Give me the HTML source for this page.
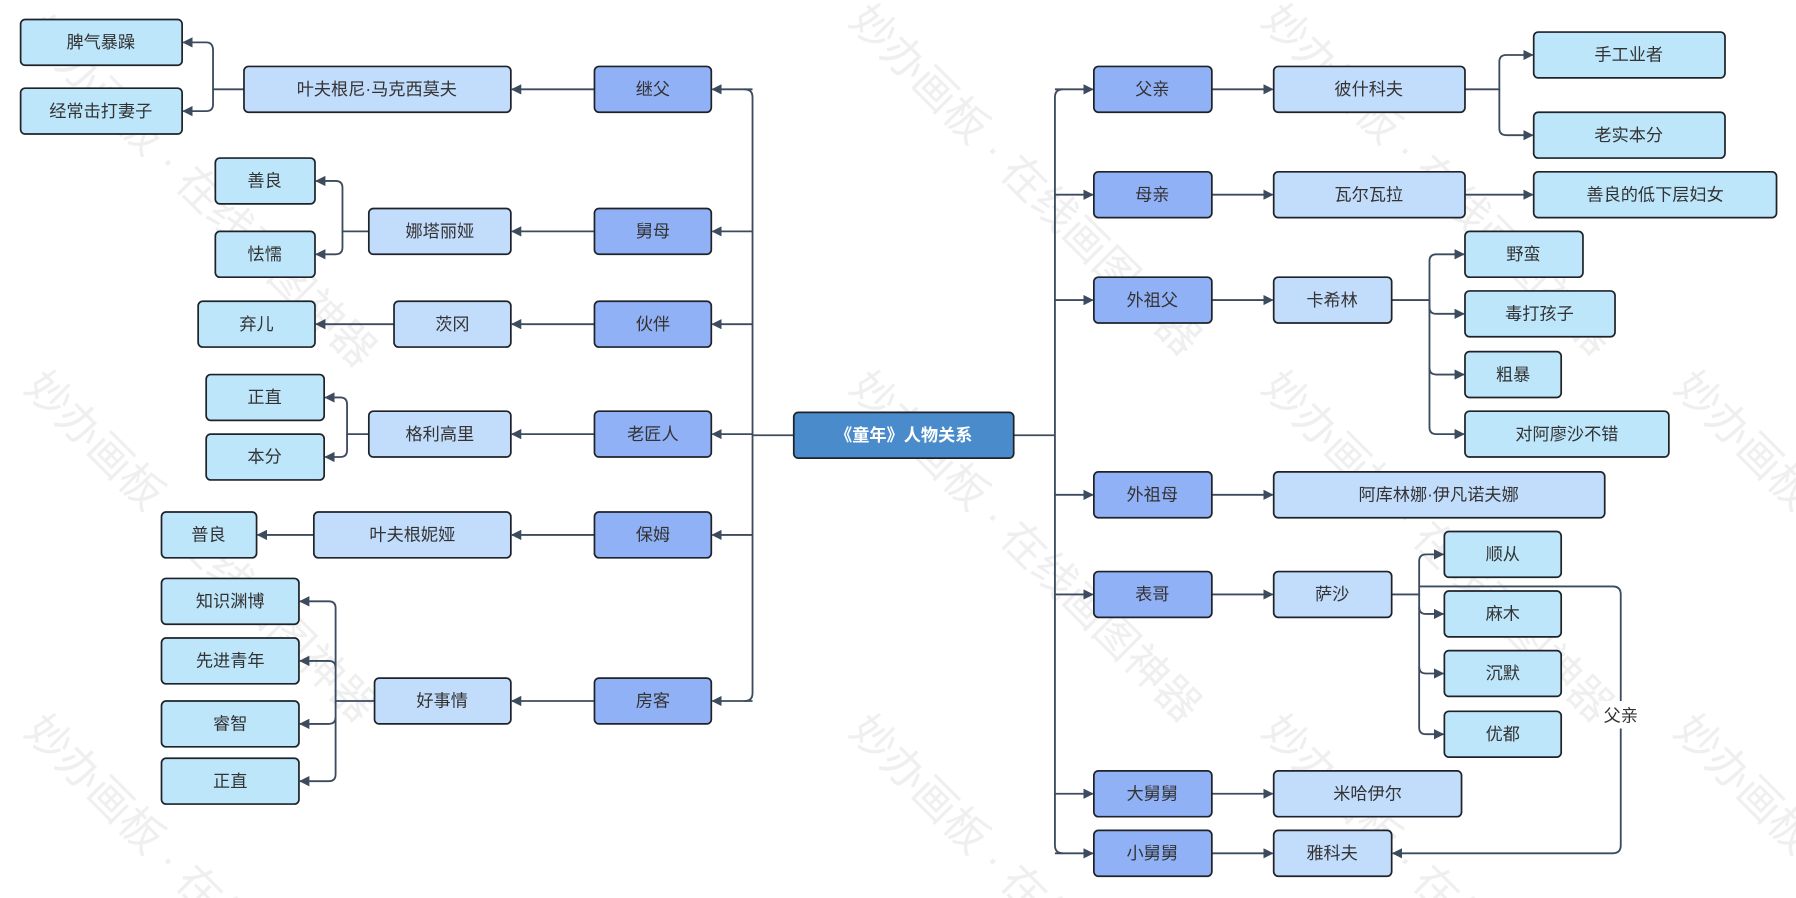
<!DOCTYPE html>
<html><head><meta charset="utf-8"><style>
html,body{margin:0;padding:0;background:#fff;width:1796px;height:898px;overflow:hidden;}
svg{display:block;overflow:hidden;}
text{font-family:"Liberation Sans","Noto Sans CJK SC",sans-serif;}
</style></head><body>
<svg width="1796" height="898" viewBox="0 0 1568 784" xmlns="http://www.w3.org/2000/svg">
<defs>
<marker id="a" viewBox="0 0 10 10" refX="9" refY="5" markerWidth="9" markerHeight="9" markerUnits="userSpaceOnUse" orient="auto"><path d="M0 0 L10 5 L0 10 Z" fill="#3d4b5e"/></marker>
<clipPath id="c"><rect x="0" y="0" width="1568" height="784"/></clipPath>
</defs>
<g fill="#ececec" font-size="38" opacity="0.8" clip-path="url(#c)">
<text transform="translate(20,30) rotate(45)">妙办画板 · 在线画图神器</text>
<text transform="translate(740,20) rotate(45)">妙办画板 · 在线画图神器</text>
<text transform="translate(1100,20) rotate(45)">妙办画板 · 在线画图神器</text>
<text transform="translate(20,340) rotate(45)">妙办画板 · 在线画图神器</text>
<text transform="translate(740,340) rotate(45)">妙办画板 · 在线画图神器</text>
<text transform="translate(1100,340) rotate(45)">妙办画板 · 在线画图神器</text>
<text transform="translate(1460,340) rotate(45)">妙办画板 · 在线画图神器</text>
<text transform="translate(20,640) rotate(45)">妙办画板 · 在线画图神器</text>
<text transform="translate(740,640) rotate(45)">妙办画板 · 在线画图神器</text>
<text transform="translate(1100,640) rotate(45)">妙办画板 · 在线画图神器</text>
<text transform="translate(1460,640) rotate(45)">妙办画板 · 在线画图神器</text>
</g>
<g fill="none" stroke="#3d4b5e" stroke-width="1.6">
<path d="M693 380 H657"/>
<path d="M650 78 Q657 78 657 85 V605 Q657 612 650 612"/>
<path d="M657 78 H622" marker-end="url(#a)"/>
<path d="M657 202 H622" marker-end="url(#a)"/>
<path d="M657 283 H622" marker-end="url(#a)"/>
<path d="M657 379 H622" marker-end="url(#a)"/>
<path d="M657 467 H622" marker-end="url(#a)"/>
<path d="M657 612 H622" marker-end="url(#a)"/>
<path d="M519 78 H447" marker-end="url(#a)"/>
<path d="M519 202 H447" marker-end="url(#a)"/>
<path d="M519 283 H447" marker-end="url(#a)"/>
<path d="M519 379 H447" marker-end="url(#a)"/>
<path d="M519 467 H447" marker-end="url(#a)"/>
<path d="M519 612 H447" marker-end="url(#a)"/>
<path d="M213 78 H186 V44 Q186 37 180 37 H160" marker-end="url(#a)"/>
<path d="M186 78 V91 Q186 97 180 97 H160" marker-end="url(#a)"/>
<path d="M322 202 H299 V164 Q299 158 293 158 H276" marker-end="url(#a)"/>
<path d="M299 202 V216 Q299 222 293 222 H276" marker-end="url(#a)"/>
<path d="M344 283 H276" marker-end="url(#a)"/>
<path d="M322 379 H303 V353 Q303 347 297 347 H284" marker-end="url(#a)"/>
<path d="M303 379 V393 Q303 399 297 399 H284" marker-end="url(#a)"/>
<path d="M274 467 H225" marker-end="url(#a)"/>
<path d="M327 612 H293 V531 Q293 525 287 525 H262" marker-end="url(#a)"/>
<path d="M293 583 Q293 577 287 577 H262" marker-end="url(#a)"/>
<path d="M293 612 V626 Q293 632 287 632 H262" marker-end="url(#a)"/>
<path d="M293 626 V676 Q293 682 287 682 H262" marker-end="url(#a)"/>
<path d="M885 380 H921"/>
<path d="M928 78 Q921 78 921 85 V738 Q921 745 928 745"/>
<path d="M921 78 H954" marker-end="url(#a)"/>
<path d="M921 170 H954" marker-end="url(#a)"/>
<path d="M921 262 H954" marker-end="url(#a)"/>
<path d="M921 432 H954" marker-end="url(#a)"/>
<path d="M921 519 H954" marker-end="url(#a)"/>
<path d="M921 693 H954" marker-end="url(#a)"/>
<path d="M921 745 H954" marker-end="url(#a)"/>
<path d="M1058 78 H1111" marker-end="url(#a)"/>
<path d="M1058 170 H1111" marker-end="url(#a)"/>
<path d="M1058 262 H1111" marker-end="url(#a)"/>
<path d="M1058 432 H1111" marker-end="url(#a)"/>
<path d="M1058 519 H1111" marker-end="url(#a)"/>
<path d="M1058 693 H1111" marker-end="url(#a)"/>
<path d="M1058 745 H1111" marker-end="url(#a)"/>
<path d="M1279 78 H1309 V54 Q1309 48 1315 48 H1338" marker-end="url(#a)"/>
<path d="M1309 78 V112 Q1309 118 1315 118 H1338" marker-end="url(#a)"/>
<path d="M1279 170 H1338" marker-end="url(#a)"/>
<path d="M1215 262 H1248 V228 Q1248 222 1254 222 H1278" marker-end="url(#a)"/>
<path d="M1248 262 V268 Q1248 274 1254 274 H1278" marker-end="url(#a)"/>
<path d="M1248 262 V321 Q1248 327 1254 327 H1278" marker-end="url(#a)"/>
<path d="M1248 321 V373 Q1248 379 1254 379 H1278" marker-end="url(#a)"/>
<path d="M1215 519 H1239 V490 Q1239 484 1245 484 H1260" marker-end="url(#a)"/>
<path d="M1239 519 V530 Q1239 536 1245 536 H1260" marker-end="url(#a)"/>
<path d="M1239 530 V582 Q1239 588 1245 588 H1260" marker-end="url(#a)"/>
<path d="M1239 582 V635 Q1239 641 1245 641 H1260" marker-end="url(#a)"/>
<path d="M1239 512 H1408 Q1415 512 1415 519 V738 Q1415 745 1408 745 H1216" marker-end="url(#a)"/>
</g>
<rect x="1396" y="612" width="38" height="24" fill="#fff"/>
<text x="1415" y="630" font-size="15" text-anchor="middle" fill="#333">父亲</text>
<g stroke="#1f2328" stroke-width="1.5" font-size="15">
<g fill="#bde6fb">
<rect x="18" y="17" width="141" height="40" rx="4"/>
<rect x="18" y="77" width="141" height="40" rx="4"/>
<rect x="188" y="138" width="87" height="40" rx="4"/>
<rect x="188" y="202" width="87" height="40" rx="4"/>
<rect x="173" y="263" width="102" height="40" rx="4"/>
<rect x="180" y="327" width="103" height="40" rx="4"/>
<rect x="180" y="379" width="103" height="40" rx="4"/>
<rect x="141" y="447" width="83" height="40" rx="4"/>
<rect x="141" y="505" width="120" height="40" rx="4"/>
<rect x="141" y="557" width="120" height="40" rx="4"/>
<rect x="141" y="612" width="120" height="40" rx="4"/>
<rect x="141" y="662" width="120" height="40" rx="4"/>
<rect x="1339" y="28" width="167" height="40" rx="4"/>
<rect x="1339" y="98" width="167" height="40" rx="4"/>
<rect x="1339" y="150" width="212" height="40" rx="4"/>
<rect x="1279" y="202" width="103" height="40" rx="4"/>
<rect x="1279" y="254" width="131" height="40" rx="4"/>
<rect x="1279" y="307" width="84" height="40" rx="4"/>
<rect x="1279" y="359" width="178" height="40" rx="4"/>
<rect x="1261" y="464" width="102" height="40" rx="4"/>
<rect x="1261" y="516" width="102" height="40" rx="4"/>
<rect x="1261" y="568" width="102" height="40" rx="4"/>
<rect x="1261" y="621" width="102" height="40" rx="4"/>
</g>
<g fill="#c2dcfc">
<rect x="213" y="58" width="233" height="40" rx="4"/>
<rect x="322" y="182" width="124" height="40" rx="4"/>
<rect x="344" y="263" width="102" height="40" rx="4"/>
<rect x="322" y="359" width="124" height="40" rx="4"/>
<rect x="274" y="447" width="172" height="40" rx="4"/>
<rect x="327" y="592" width="119" height="40" rx="4"/>
<rect x="1112" y="58" width="167" height="40" rx="4"/>
<rect x="1112" y="150" width="167" height="40" rx="4"/>
<rect x="1112" y="242" width="103" height="40" rx="4"/>
<rect x="1112" y="412" width="289" height="40" rx="4"/>
<rect x="1112" y="499" width="103" height="40" rx="4"/>
<rect x="1112" y="673" width="164" height="40" rx="4"/>
<rect x="1112" y="725" width="103" height="40" rx="4"/>
</g>
<g fill="#91b1f6">
<rect x="519" y="58" width="102" height="40" rx="4"/>
<rect x="519" y="182" width="102" height="40" rx="4"/>
<rect x="519" y="263" width="102" height="40" rx="4"/>
<rect x="519" y="359" width="102" height="40" rx="4"/>
<rect x="519" y="447" width="102" height="40" rx="4"/>
<rect x="519" y="592" width="102" height="40" rx="4"/>
<rect x="955" y="58" width="103" height="40" rx="4"/>
<rect x="955" y="150" width="103" height="40" rx="4"/>
<rect x="955" y="242" width="103" height="40" rx="4"/>
<rect x="955" y="412" width="103" height="40" rx="4"/>
<rect x="955" y="499" width="103" height="40" rx="4"/>
<rect x="955" y="673" width="103" height="40" rx="4"/>
<rect x="955" y="725" width="103" height="40" rx="4"/>
</g>
<rect x="693" y="360" width="192" height="40" rx="4" fill="#4a8ccb"/>
</g>
<g font-size="15" fill="#333" text-anchor="middle">
<text x="88" y="42">脾气暴躁</text>
<text x="88" y="102">经常击打妻子</text>
<text x="231" y="163">善良</text>
<text x="231" y="227">怯懦</text>
<text x="224" y="288">弃儿</text>
<text x="231" y="352">正直</text>
<text x="231" y="404">本分</text>
<text x="182" y="472">普良</text>
<text x="201" y="530">知识渊博</text>
<text x="201" y="582">先进青年</text>
<text x="201" y="637">睿智</text>
<text x="201" y="687">正直</text>
<text x="329" y="83">叶夫根尼·马克西莫夫</text>
<text x="384" y="207">娜塔丽娅</text>
<text x="395" y="288">茨冈</text>
<text x="384" y="384">格利高里</text>
<text x="360" y="472">叶夫根妮娅</text>
<text x="386" y="617">好事情</text>
<text x="570" y="83">继父</text>
<text x="570" y="207">舅母</text>
<text x="570" y="288">伙伴</text>
<text x="570" y="384">老匠人</text>
<text x="570" y="472">保姆</text>
<text x="570" y="617">房客</text>
<text x="1006" y="83">父亲</text>
<text x="1006" y="175">母亲</text>
<text x="1006" y="267">外祖父</text>
<text x="1006" y="437">外祖母</text>
<text x="1006" y="524">表哥</text>
<text x="1006" y="698">大舅舅</text>
<text x="1006" y="750">小舅舅</text>
<text x="1195" y="83">彼什科夫</text>
<text x="1195" y="175">瓦尔瓦拉</text>
<text x="1163" y="267">卡希林</text>
<text x="1256" y="437">阿库林娜·伊凡诺夫娜</text>
<text x="1163" y="524">萨沙</text>
<text x="1194" y="698">米哈伊尔</text>
<text x="1163" y="750">雅科夫</text>
<text x="1422" y="53">手工业者</text>
<text x="1422" y="123">老实本分</text>
<text x="1445" y="175">善良的低下层妇女</text>
<text x="1330" y="227">野蛮</text>
<text x="1344" y="279">毒打孩子</text>
<text x="1321" y="332">粗暴</text>
<text x="1368" y="384">对阿廖沙不错</text>
<text x="1312" y="489">顺从</text>
<text x="1312" y="541">麻木</text>
<text x="1312" y="593">沉默</text>
<text x="1312" y="646">优都</text>
<text x="789" y="385" fill="#fff" font-weight="bold">《童年》人物关系</text>
</g>
</svg>
</body></html>
